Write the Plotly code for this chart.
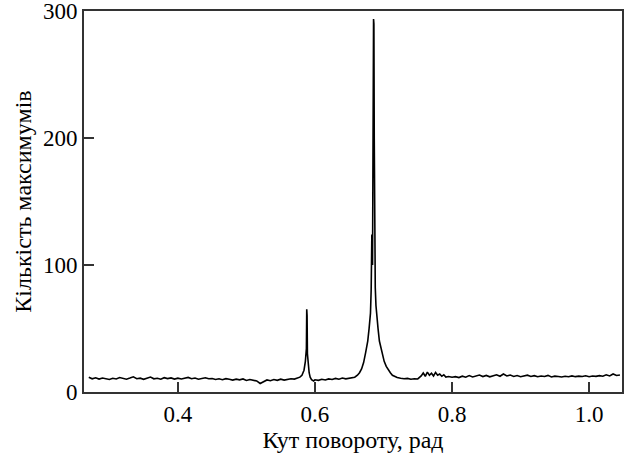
import plotly.graph_objects as go

# кут повороту, рад
kut = [0.270, 0.275, 0.280, 0.285, 0.290, 0.295, 0.300, 0.305, 0.310, 0.315,
       0.320, 0.325, 0.330, 0.335, 0.340, 0.345, 0.350, 0.355, 0.360, 0.365,
       0.370, 0.375, 0.380, 0.385, 0.390, 0.395, 0.400, 0.405, 0.410, 0.415,
       0.420, 0.425, 0.430, 0.435, 0.440, 0.445, 0.450, 0.455, 0.460, 0.465,
       0.470, 0.475, 0.480, 0.485, 0.490, 0.495, 0.500, 0.505, 0.510, 0.515,
       0.520, 0.525, 0.530, 0.535, 0.540, 0.545, 0.550, 0.555, 0.560, 0.565,
       0.570, 0.575, 0.578, 0.581, 0.584, 0.586, 0.5875, 0.588, 0.5885, 0.589,
       0.590, 0.5915, 0.593, 0.595, 0.598, 0.600, 0.605, 0.610, 0.615, 0.620,
       0.625, 0.630, 0.635, 0.640, 0.645, 0.650, 0.655, 0.658, 0.662, 0.665,
       0.668, 0.671, 0.674, 0.677, 0.679, 0.681, 0.682, 0.683, 0.6835, 0.684,
       0.685, 0.6855, 0.686, 0.6865, 0.687, 0.688, 0.689, 0.690, 0.692, 0.694,
       0.696, 0.698, 0.701, 0.704, 0.707, 0.710, 0.713, 0.717, 0.720, 0.725,
       0.730, 0.735, 0.740, 0.745, 0.750, 0.755, 0.758, 0.761, 0.764, 0.767,
       0.770, 0.773, 0.776, 0.779, 0.782, 0.785, 0.788, 0.791, 0.795, 0.800,
       0.805, 0.810, 0.815, 0.820, 0.825, 0.830, 0.835, 0.840, 0.845, 0.850,
       0.855, 0.860, 0.865, 0.870, 0.875, 0.880, 0.885, 0.890, 0.895, 0.900,
       0.905, 0.910, 0.915, 0.920, 0.925, 0.930, 0.935, 0.940, 0.945, 0.950,
       0.955, 0.960, 0.965, 0.970, 0.975, 0.980, 0.985, 0.990, 0.995, 1.000,
       1.005, 1.010, 1.015, 1.020, 1.025, 1.030, 1.035, 1.040, 1.045]

# кількість максимумів
kilkist = [11.5, 10.2, 11.0, 10.0, 10.8, 10.4, 9.7, 10.6, 10.1, 11.2,
           10.5, 9.9, 10.8, 11.8, 10.3, 10.7, 9.8, 11.0, 11.6, 10.2,
           10.6, 9.9, 11.1, 10.4, 10.9, 10.0, 10.7, 10.1, 10.5, 11.3,
           10.3, 10.8, 9.9, 10.6, 11.0, 10.2, 10.4, 9.7, 10.2, 9.5,
           10.3, 9.8, 9.2, 9.9, 9.4, 10.1, 8.9, 9.6, 9.2, 8.5,
           6.5, 8.0, 9.3, 8.7, 9.6, 9.0, 9.9, 9.2, 9.7, 10.3,
           10.0, 10.8, 11.5, 13.0, 17.0, 24.0, 34.0, 65.0, 60.0, 30.0,
           22.0, 15.0, 11.5, 9.5, 8.5, 9.4, 9.0, 9.8, 9.3, 10.1,
           9.7, 10.5, 9.9, 10.8, 10.2, 10.6, 11.0, 11.5, 13.0, 15.0,
           18.0, 23.0, 31.0, 40.0, 50.0, 62.0, 80.0, 124.0, 118.0, 100.0,
           210.0, 294.0, 290.0, 200.0, 110.0, 82.0, 68.0, 60.0, 50.0, 40.0,
           35.0, 30.0, 24.0, 20.0, 17.0, 15.0, 13.0, 11.8, 11.2, 10.6,
           10.2, 10.5, 9.9, 10.3, 10.1, 12.5, 14.8, 12.2, 15.5, 13.0,
           14.6, 12.4, 15.2, 13.1, 14.0, 12.2, 13.4, 11.6, 12.0, 11.4,
           11.9, 11.2, 12.3, 11.5, 12.8, 11.7, 12.4, 13.2, 12.0, 12.9,
           11.8, 12.6, 13.4, 12.2, 14.0, 12.5, 13.2, 12.1, 12.8, 11.9,
           12.6, 13.1, 12.0, 12.7, 11.8, 12.4, 12.0, 12.9, 11.7, 12.3,
           12.0, 11.6, 12.2, 11.8, 12.5, 11.9, 12.3, 12.0, 12.6, 11.8,
           12.4, 12.1, 12.7, 12.2, 13.4, 12.5, 14.0, 12.8, 13.2]

x_ticks = [0.4, 0.6, 0.8, 1.0]
x_ticklabels = ["0.4", "0.6", "0.8", "1.0"]
y_ticks = [0, 100, 200, 300]
y_ticklabels = ["0", "100", "200", "300"]

font_family = "Liberation Serif"

fig = go.Figure()
fig.add_trace(go.Scatter(x=kut, y=kilkist, mode="lines",
                         line=dict(color="black", width=1.6),
                         showlegend=False))

axis_style = dict(showline=True, linecolor="#333333", linewidth=2, mirror=True,
                  ticks="inside", ticklen=10, tickwidth=1.5, tickcolor="#333333",
                  showgrid=False, zeroline=False, automargin=False,
                  ticklabeloverflow="allow",
                  tickfont=dict(family=font_family, size=23, color="black"))

fig.update_xaxes(range=[0.263, 1.048], tickvals=x_ticks, ticktext=x_ticklabels,
                 title=dict(text="Кут повороту, рад", standoff=3,
                            font=dict(family=font_family, size=24, color="black")),
                 **axis_style)
fig.update_yaxes(range=[-0.2, 300.3], tickvals=y_ticks, ticktext=y_ticklabels,
                 title=dict(text="Кількість максимумів", standoff=5,
                            font=dict(family=font_family, size=24, color="black")),
                 **axis_style)

fig.update_layout(width=625, height=457,
                  margin=dict(l=84, r=3, t=11, b=65),
                  plot_bgcolor="white", paper_bgcolor="white")

# the page has an 8px body margin by default; drop it so the figure sits at 0,0
fig.write_html("out.html", config={"displayModeBar": False},
               post_script="document.body.style.margin='0px';")
